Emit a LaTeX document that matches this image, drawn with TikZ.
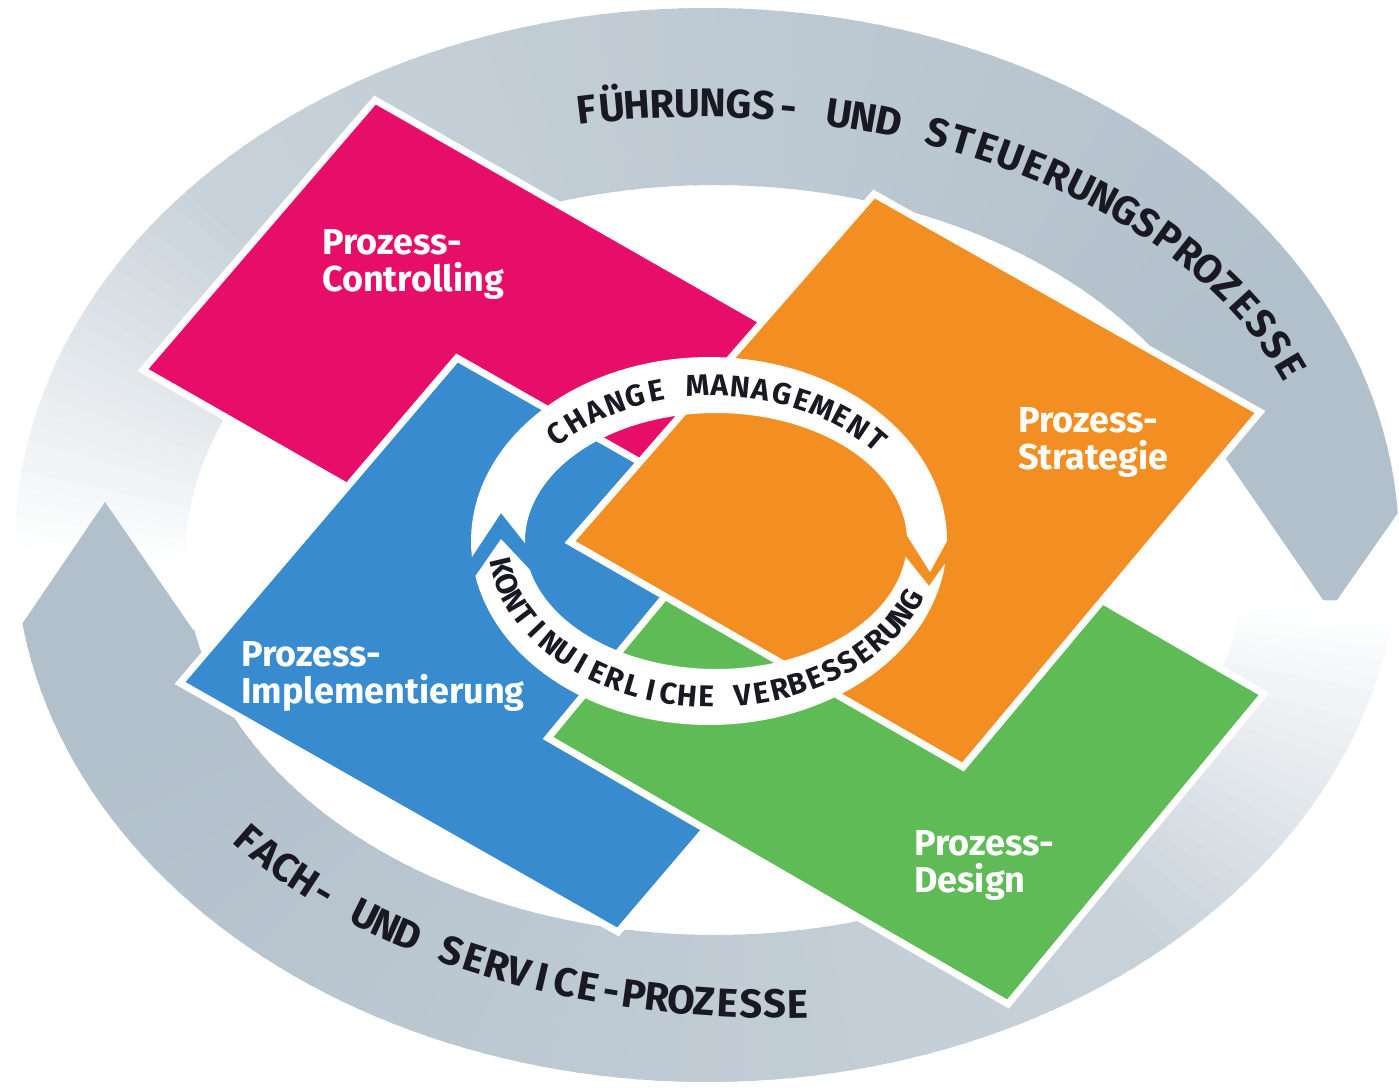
\documentclass[tikz,border=0pt]{standalone}
\usepackage{fontspec}
\newfontfamily\dinfont{Fira Sans}
\definecolor{pinkc}{RGB}{230,14,105}
\definecolor{bluec}{RGB}{56,139,206}
\definecolor{orangec}{RGB}{243,143,34}
\definecolor{greenc}{RGB}{95,187,86}
\definecolor{grayA}{RGB}{200,210,218}
\definecolor{grayB}{RGB}{178,192,203}
\definecolor{inkc}{RGB}{25,25,35}
\newcommand\bandfnt{\dinfont\bfseries\fontsize{40}{46}\selectfont}
\newcommand\ringfnt{\dinfont\bfseries\fontsize{30}{35}\selectfont}
\newcommand\labfnt{\dinfont\bfseries\fontsize{36}{37}\selectfont}
% text along an ellipse: #1 font, #2 chars, #3 cx, #4 cy, #5 a, #6 b, #7 t0, #8 t1, #9 dir
\newcommand\arctext[9]{%
  \xdef\atW{0}\xdef\atN{0}%
  \foreach \c in {#2}{%
    \setbox0=\hbox{#1\c}%
    \pgfmathsetmacro\tmpa{\atW+\the\wd0}\xdef\atW{\tmpa}%
    \pgfmathsetmacro\tmpa{\atN+1}\xdef\atN{\tmpa}%
  }%
  \xdef\atL{0}%
  \foreach \k in {0,...,59}{%
    \pgfmathsetmacro\tmpt{#7+(\k+0.5)*(#8-#7)/60}%
    \pgfmathsetmacro\tmpa{\atL+abs(#8-#7)/60/57.29578*#5*sqrt(sin(\tmpt)^2+(#6/#5)^2*cos(\tmpt)^2)}%
    \xdef\atL{\tmpa}%
  }%
  \pgfmathsetmacro\tmpa{(\atL-\atW)/(\atN-1)}\xdef\atK{\tmpa}%
  \xdef\atT{#7}%
  \foreach \c in {#2}{%
    \setbox0=\hbox{#1\c}%
    \pgfmathsetmacro\hw{\the\wd0/2}%
    \pgfmathsetmacro\tm{\atT+(#9)*\hw/(#5*sqrt(sin(\atT)^2+(#6/#5)^2*cos(\atT)^2))*57.29578}%
    \pgfmathsetmacro\px{#3+#5*cos(\tm)}%
    \pgfmathsetmacro\py{#4+#6*sin(\tm)}%
    \pgfmathsetmacro\ang{atan2(-(#9)*#6*cos(\tm),-(#9)*#5*sin(\tm))}%
    \node[inner sep=0pt, anchor=base, rotate=\ang, text=inkc, font=#1] at (\px,\py) {\c};%
    \pgfmathsetmacro\tn{\tm+(#9)*(\hw+\atK)/(#5*sqrt(sin(\tm)^2+(#6/#5)^2*cos(\tm)^2))*57.29578}%
    \xdef\atT{\tn}%
  }%
}
\begin{document}
\begin{tikzpicture}[x=1pt,y=-1pt,
  sq/.style={draw=white, line width=7pt, line join=miter},
  lab/.style={text=white, font=\labfnt, align=left, inner sep=0pt, anchor=north west},
  ringarc/.style={fill=white}]
\useasboundingbox (0,0) rectangle (1399,1087);
\fill[white] (0,0) rectangle (1399,1087);
\clip (0,0) rectangle (1399,1087);
% ---- outer band, top arrow (tail faded at left, tip at right)
\foreach \i in {0,...,99}{
  \pgfmathsetmacro{\ta}{178+\i*1.66}
  \pgfmathsetmacro{\tb}{\ta+2.1}
  \pgfmathtruncatemacro{\pp}{min(100,\i*100/26)}
  \pgfmathtruncatemacro{\qq}{max(0,min(100,(\i-26)*100/66))}
  \colorlet{slA}{grayB!\qq!grayA}
  \colorlet{slB}{slA!\pp!white}
  \fill[slB] plot[domain=\ta:\tb,samples=3] ({707+692*cos(\x)},{545+537*sin(\x)})
     -- plot[domain=\tb:\ta,samples=3] ({715+530*cos(\x)},{560+375*sin(\x)}) -- cycle;
}
\fill[grayB] plot[domain=344:356.6,samples=8] ({707+692*cos(\x)},{545+537*sin(\x)})
   -- (1330,610) -- ({715+530*cos(344)},{560+375*sin(344)}) -- cycle;
% ---- outer band, bottom arrow (tail faded at right, tip at left)
\foreach \i in {0,...,99}{
  \pgfmathsetmacro{\ta}{6+\i*1.628}
  \pgfmathsetmacro{\tb}{\ta+2.1}
  \pgfmathtruncatemacro{\pp}{min(100,\i*100/26)}
  \pgfmathtruncatemacro{\qq}{max(0,min(100,(\i-26)*100/66))}
  \colorlet{slA}{grayB!\qq!grayA}
  \colorlet{slB}{slA!\pp!white}
  \fill[slB] plot[domain=\ta:\tb,samples=3] ({707+692*cos(\x)},{545+537*sin(\x)})
     -- plot[domain=\tb:\ta,samples=3] ({715+530*cos(\x)},{560+375*sin(\x)}) -- cycle;
}
\fill[grayB] plot[domain=168.8:171.6,samples=4] ({707+692*cos(\x)},{545+537*sin(\x)})
   -- (105,502) -- ({715+530*cos(168.8)},{560+375*sin(168.8)}) -- cycle;
% ---- band texts
\arctext{\bandfnt}{F,Ü,H,R,U,N,G,S,-,~,U,N,D,~,S,T,E,U,E,R,U,N,G,S,P,R,O,Z,E,S,S,E}{700}{517}{620}{400}{259.6}{339.5}{1}
\arctext{\bandfnt}{F,A,C,H,-,~,U,N,D,~,S,E,R,V,I,C,E,-,P,R,O,Z,E,S,S,E}{780}{638}{650}{380}{146.3}{88.7}{-1}
% ---- squares
\fill[pinkc, sq] (375,100) -- (783,333) -- (551,603) -- (143,370) -- cycle;
\fill[bluec, sq] (457,358) -- (895,607) -- (618,932) -- (180,683) -- cycle;
\fill[greenc, sq] (804,428) -- (1264,694) -- (1008,1004) -- (548,738) -- cycle;
\fill[orangec, sq] (874,194) -- (1260,412) -- (963,767) -- (570,542) -- cycle;
% ---- inner ring arrows
\fill[ringarc] plot[domain=175:360,samples=70] ({709+238*cos(\x)},{541+184*sin(\x)})
  -- (930,572)
  -- plot[domain=357.5:179,samples=70] ({716+191*cos(\x)},{541+128*sin(\x)})
  -- (501,513) -- cycle;
\fill[ringarc] plot[domain=7:169,samples=70] ({709+238*cos(\x)},{541+184*sin(\x)})
  -- (501,539)
  -- plot[domain=167:7,samples=70] ({716+191*cos(\x)},{541+128*sin(\x)})
  -- (929,586) -- cycle;
\arctext{\ringfnt}{C,H,A,N,G,E,~,M,A,N,A,G,E,M,E,N,T}{713}{541}{204}{145}{223}{320}{1}
\arctext{\ringfnt}{K,O,N,T,I,N,U,I,E,R,L,I,C,H,E,~,V,E,R,B,E,S,S,E,R,U,N,G}{713}{541}{225}{166}{170}{23}{-1}
% ---- labels
\node[lab] (lc) at (322,229) {Prozess-\\Controlling};
\node[lab] (ls) at (1018,407) {Prozess-\\Strategie};
\node[lab] (li) at (241,641) {Prozess-\\Implementierung};
\node[lab] (ld) at (914,830) {Prozess-\\Design};
\end{tikzpicture}
\end{document}
